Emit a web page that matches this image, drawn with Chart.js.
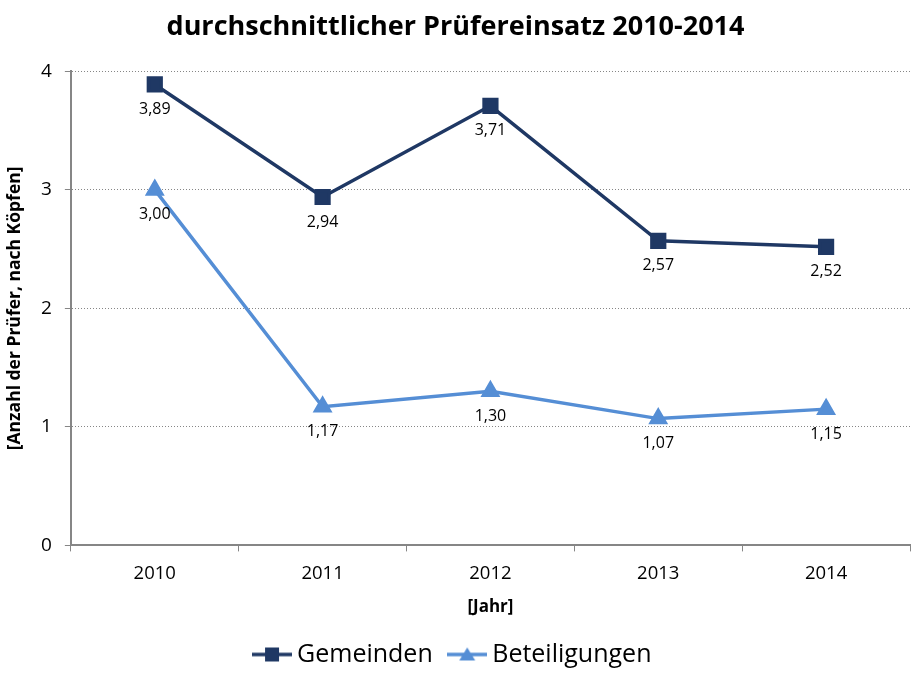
<!DOCTYPE html>
<html>
<head>
<meta charset="utf-8">
<script src="https://cdn.jsdelivr.net/npm/chart.js@4"></script>
<style>
  html, body { margin: 0; padding: 0; background: #fff; }
  #wrap { width: 912px; height: 677px; }
</style>
</head>
<body>
<div id="wrap"><canvas id="chart" width="912" height="677"></canvas></div>
<script>
const years = ['2010', '2011', '2012', '2013', '2014'];
const gemeinden = [3.89, 2.94, 3.71, 2.57, 2.52];
const beteiligungen = [3.00, 1.17, 1.30, 1.07, 1.15];
const yTicks = [0, 1, 2, 3, 4];

const FONT = "'Open Sans', 'Liberation Sans', sans-serif";
const dark = '#1F3864';
const light = '#558ED5';

// legend symbol: short line with marker in the middle
function legendIcon(color, shape) {
  const c = document.createElement('canvas');
  c.width = 40; c.height = 16;
  const ctx = c.getContext('2d');
  ctx.strokeStyle = color;
  ctx.lineWidth = 3.5;
  ctx.beginPath();
  ctx.moveTo(0, 8); ctx.lineTo(40, 8);
  ctx.stroke();
  ctx.fillStyle = color;
  if (shape === 'rect') {
    ctx.fillRect(13, 1, 14, 14);
  } else {
    ctx.beginPath();
    ctx.moveTo(20, 1); ctx.lineTo(28, 14); ctx.lineTo(12, 14);
    ctx.closePath(); ctx.fill();
  }
  return c;
}

const valueLabels = {
  id: 'valueLabels',
  afterDatasetsDraw(chart) {
    const ctx = chart.ctx;
    ctx.save();
    ctx.font = '16px ' + FONT;
    ctx.fillStyle = '#000';
    ctx.textAlign = 'center';
    ctx.textBaseline = 'middle';
    chart.data.datasets.forEach((ds, i) => {
      chart.getDatasetMeta(i).data.forEach((pt, j) => {
        ctx.fillText(ds.data[j].toFixed(2).replace('.', ','), pt.x, pt.y + 25);
      });
    });
    ctx.restore();
  }
};

new Chart(document.getElementById('chart'), {
  type: 'line',
  data: {
    labels: years,
    datasets: [{
      label: 'Gemeinden',
      data: gemeinden,
      borderColor: dark,
      backgroundColor: dark,
      borderWidth: 3.5,
      pointStyle: 'rect',
      pointRadius: 9,
      pointHoverRadius: 9,
      tension: 0
    }, {
      label: 'Beteiligungen',
      data: beteiligungen,
      borderColor: light,
      backgroundColor: light,
      borderWidth: 3.5,
      pointStyle: 'triangle',
      pointRadius: 8,
      pointHoverRadius: 8,
      tension: 0
    }]
  },
  plugins: [valueLabels],
  options: {
    responsive: false,
    animation: false,
    layout: { autoPadding: false, padding: { left: 1, right: 2, top: 0, bottom: 0 } },
    plugins: {
      title: {
        display: true,
        text: 'durchschnittlicher Prüfereinsatz 2010-2014',
        color: '#000',
        font: { family: FONT, size: 27, weight: 'bold' },
        padding: { top: 11, bottom: 28 }
      },
      legend: {
        position: 'bottom',
        labels: {
          color: '#000',
          font: { family: FONT, size: 25 },
          usePointStyle: true,
          padding: 22,
          generateLabels(chart) {
            return chart.data.datasets.map((ds, i) => ({
              text: ds.label,
              pointStyle: legendIcon(ds.borderColor, i === 0 ? 'rect' : 'tri'),
              datasetIndex: i,
              fontColor: '#000'
            }));
          }
        }
      },
      tooltip: { enabled: false }
    },
    scales: {
      x: {
        offset: true,
        grid: { offset: true, drawOnChartArea: false, drawTicks: true, tickLength: 6, color: '#868686' },
        border: { color: '#868686', width: 2 },
        ticks: { color: '#000', font: { family: FONT, size: 18.5 }, padding: 11 },
        title: { display: true, text: '[Jahr]', color: '#000', font: { family: FONT, size: 17, weight: 'bold' }, padding: { top: 1, bottom: 3 } }
      },
      y: {
        min: 0,
        max: 4,
        afterBuildTicks(axis) { axis.ticks = yTicks.map(v => ({ value: v })); },
        grid: { color: '#868686', lineWidth: 1, tickLength: 6, tickColor: '#868686' },
        border: { color: '#868686', width: 2, dash: [1, 2] },
        ticks: { color: '#000', font: { family: FONT, size: 19 }, padding: 13 },
        title: { display: true, text: '[Anzahl der Prüfer, nach Köpfen]', color: '#000', font: { family: FONT, size: 17.5, weight: 'bold' }, padding: { bottom: 2 } }
      }
    }
  }
});
</script>
</body>
</html>
